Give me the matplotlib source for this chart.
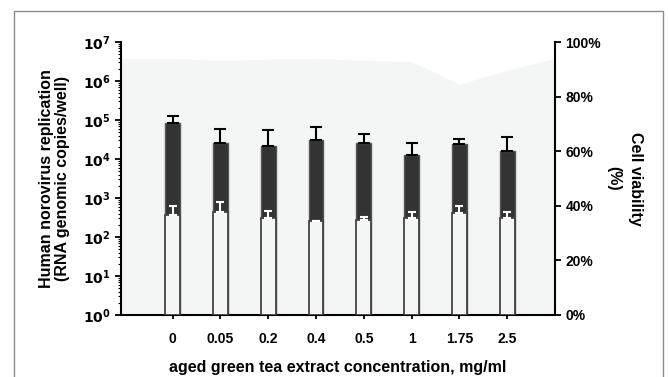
import numpy as np
import matplotlib
matplotlib.use("Agg")
import matplotlib.pyplot as plt
from matplotlib.patches import Rectangle
from matplotlib.ticker import LogLocator, FuncFormatter, NullFormatter, PercentFormatter

plt.rcParams['font.family'] = ['Liberation Sans', 'DejaVu Sans']
plt.rcParams['font.weight'] = 'bold'

# concentrations (mg/ml)
categories = ['0', '0.05', '0.2', '0.4', '0.5', '1', '1.75', '2.5']

# RNA genomic copies/well
replication = [8.2e4, 2.5e4, 2.1e4, 3.0e4, 2.5e4, 1.26e4, 2.4e4, 1.57e4]
replication_err = [4.8e4, 3.3e4, 3.4e4, 3.6e4, 1.9e4, 1.24e4, 0.9e4, 2.13e4]
baseline = [366, 430, 313, 257, 273, 307, 419, 313]
baseline_err = [257, 346, 151, 0, 52, 140, 215, 134]

# cell viability (%), including the two axis ends
viability_pos = [-1.08, 0, 1, 2, 3, 4, 5, 6, 7, 8.0]
viability = [94.0, 94.0, 93.2, 93.7, 94.0, 93.2, 92.8, 84.5, 89.7, 94.0]

fig = plt.figure(figsize=(6.68, 3.77), dpi=100)
fig.patches.append(Rectangle((14 / 668, -0.1), (663 - 14) / 668, 1.1 - 11 / 377,
                             transform=fig.transFigure, fill=False,
                             edgecolor='#8c8c8c', linewidth=1.0))

ax = fig.add_axes([121 / 668, 1 - 315 / 377, (555 - 121) / 668, (315 - 42) / 377])
ax2 = ax.twinx()
ax.set_zorder(ax2.get_zorder() + 1)
ax.patch.set_visible(False)

x = np.arange(len(categories))
w = 0.31

# viability shaded area
ax2.fill_between(viability_pos, 0, viability, color='#f4f5f5', linewidth=0)
ax2.set_ylim(0, 100)
ax2.yaxis.set_major_formatter(PercentFormatter(decimals=0))
ax2.set_yticks([0, 20, 40, 60, 80, 100])
ax2.set_ylabel('Cell viability\n(%)', rotation=270, labelpad=30,
               fontsize=11.5, fontweight='bold', linespacing=1.5)

ax.bar(x, replication, width=w, bottom=1, color='#333333', edgecolor='#555555',
       linewidth=1.0, zorder=2)
ax.errorbar(x, replication, yerr=[np.zeros(len(x)), replication_err], fmt='none',
            ecolor='black', elinewidth=1.5, capsize=4, capthick=1.5, zorder=3)
ax.bar(x, baseline, width=w, bottom=1, color='#f4f5f5', edgecolor='#444444',
       linewidth=1.3, zorder=4)
ax.errorbar(x, baseline, yerr=[np.zeros(len(x)), baseline_err], fmt='none',
            ecolor='white', elinewidth=1.5, capsize=3, capthick=1.5, zorder=5)

ax.set_yscale('log')
ax.set_ylim(1, 1e7)
ax.set_xlim(-1.08, 8.0)
ax.yaxis.set_major_locator(LogLocator(base=10, numticks=10))
ax.yaxis.set_minor_locator(LogLocator(base=10, subs=np.arange(2, 10), numticks=20))
ax.yaxis.set_minor_formatter(NullFormatter())
ax.yaxis.set_major_formatter(FuncFormatter(lambda v, p: r'$\mathbf{10^{%d}}$' % round(np.log10(v))))
ax.set_xticks(x)
ax.set_xticklabels(categories)

ax.set_ylabel('Human norovirus replication\n(RNA genomic copies/well)',
              fontsize=11.5, fontweight='bold', labelpad=9, linespacing=1.1)
ax.set_xlabel('aged green tea extract concentration, mg/ml',
              fontsize=11.5, fontweight='bold', labelpad=10)

for a in (ax, ax2):
    a.spines['top'].set_visible(False)
    for s in a.spines.values():
        s.set_linewidth(1.5)
    a.tick_params(labelsize=10, width=1.3, length=4)
ax.spines['right'].set_visible(False)
ax2.spines['left'].set_visible(False)
ax2.spines['bottom'].set_visible(False)
ax.tick_params(axis='y', which='minor', length=2.5, width=0.8)
ax.tick_params(axis='x', length=3, pad=9)
for lbl in ax.get_xticklabels() + ax.get_yticklabels() + ax2.get_yticklabels():
    lbl.set_fontweight('bold')

fig.savefig('out.png', dpi=100)
